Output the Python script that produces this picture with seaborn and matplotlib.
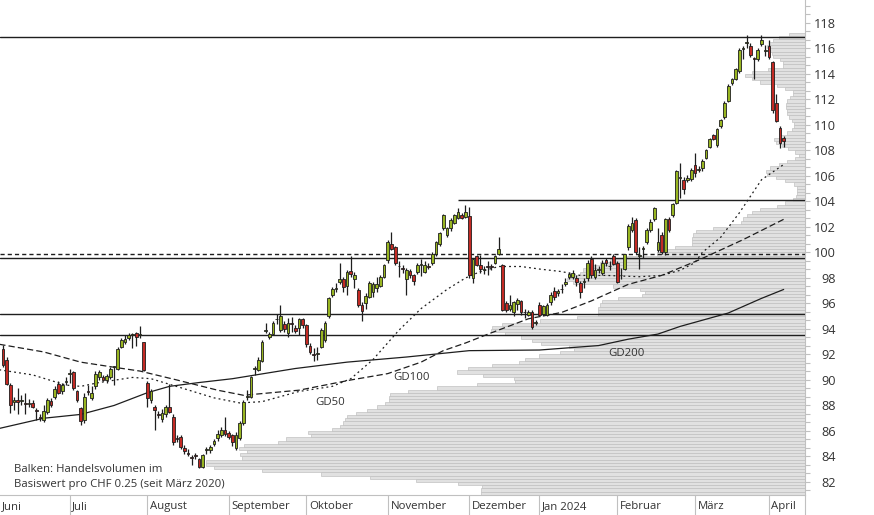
import numpy as np
import pandas as pd
import matplotlib
matplotlib.use("Agg")
import matplotlib.pyplot as plt
import matplotlib.transforms as mtransforms
from matplotlib.ticker import MultipleLocator
import seaborn as sns

# Handelstage SIX, 7. Juni 2023 bis 8. April 2024
feiertage = ["2023-08-01", "2023-12-25", "2023-12-26", "2024-01-01",
             "2024-01-02", "2024-03-29", "2024-04-01"]
tage = pd.bdate_range("2023-06-07", "2024-04-08")
tage = tage[~tage.isin(pd.to_datetime(feiertage))]

# Kerzen
eroeffnung = [
    92.4, 91.6, 89.6, 88.3, 88.4, 88.35, 88.2, 88.15, 88.17, 87.6,
    87.1, 86.9, 87.5, 88.35, 88.7, 89.7, 89.1, 89.85, 90.5, 90.65,
    89.1, 87.8, 86.9, 89.1, 88.6, 89.5, 90.2, 90.25, 90.0, 90.26,
    91.0, 90.9, 92.6, 92.95, 93.3, 93.5, 93.66, 93.5, 92.95, 89.75,
    88.4, 87.9, 87.3, 86.95, 87.3, 87.85, 87.1, 85.45, 85.55, 84.7,
    84.25, 83.95, 84.1, 83.8, 83.2, 84.5, 84.5, 84.95, 85.45, 85.7,
    86.1, 85.85, 85.7, 84.65, 85.45, 86.65, 88.7, 88.7, 90.85, 90.8,
    91.5, 93.85, 93.35, 93.6, 94.75, 93.9, 94.4, 93.7, 94.45, 94.08,
    94.05, 94.8, 94.3, 92.7, 92.0, 92.0, 92.56, 93.1, 95.0, 96.7,
    97.15, 97.7, 97.9, 97.4, 98.55, 97.9, 97.06, 95.9, 96.0, 96.5,
    96.9, 97.2, 97.4, 98.1, 99.4, 100.7, 100.4, 98.95, 98.75, 97.9,
    98.55, 98.2, 98.5, 99.0, 98.5, 98.9, 99.2, 99.86, 100.7, 101.9,
    101.4, 101.9, 102.3, 102.7, 102.94, 102.8, 102.86, 97.97, 99.7, 99.0,
    98.6, 98.9, 98.9, 99.2, 99.9, 99.0, 96.0, 95.6, 95.3, 95.96,
    96.2, 95.3, 95.1, 95.35, 94.5, 95.9, 95.2, 95.1, 96.1, 97.0,
    96.8, 97.1, 97.55, 98.1, 98.1, 97.97, 97.6, 97.7, 97.97, 99.5,
    98.1, 98.6, 98.37, 99.4, 98.9, 99.75, 99.15, 98.2, 98.7, 100.4,
    101.8, 102.55, 99.7, 100.3, 100.85, 101.8, 102.6, 100.2, 101.4, 100.0,
    102.6, 102.9, 103.9, 105.85, 105.7, 105.7, 105.8, 106.86, 106.5, 106.6,
    107.4, 108.3, 109.2, 108.4, 109.9, 110.65, 111.9, 113.32, 113.6, 114.2,
    115.95, 116.4, 116.2, 115.2, 115.15, 116.33, 115.8, 116.2, 114.9, 111.7,
    109.8, 108.95]
hoch = [
    92.75, 91.8, 89.8, 88.7, 89.35, 88.8, 88.95, 88.5, 88.4, 87.8,
    87.3, 88.0, 88.6, 88.6, 89.5, 89.9, 89.8, 90.26, 90.9, 90.7,
    89.2, 87.9, 89.0, 89.6, 89.5, 90.7, 90.8, 90.4, 90.5, 91.0,
    91.1, 92.6, 93.3, 93.5, 93.7, 93.66, 93.8, 94.24, 93.0, 89.9,
    89.3, 88.0, 87.6, 87.7, 88.0, 89.7, 87.3, 85.7, 85.7, 84.9,
    84.6, 84.1, 84.3, 83.9, 84.2, 84.75, 84.9, 85.4, 86.1, 86.3,
    87.1, 86.0, 85.8, 85.9, 86.8, 88.4, 89.2, 90.3, 91.1, 91.8,
    93.1, 94.5, 93.8, 94.6, 95.2, 95.9, 94.6, 94.9, 94.95, 94.3,
    94.85, 94.9, 94.4, 92.9, 92.5, 92.6, 94.1, 94.6, 96.5, 97.3,
    97.6, 99.15, 98.1, 98.6, 99.7, 98.5, 97.2, 96.1, 96.8, 97.8,
    97.7, 98.1, 98.2, 99.1, 101.0, 101.6, 100.5, 99.3, 99.0, 98.8,
    98.7, 98.3, 99.2, 99.5, 99.3, 99.2, 100.0, 100.9, 101.6, 103.0,
    102.0, 102.7, 103.0, 103.5, 103.1, 103.7, 103.6, 99.6, 99.8, 99.8,
    98.9, 99.3, 99.1, 99.8, 101.2, 99.1, 96.2, 96.7, 96.2, 96.4,
    96.3, 95.6, 95.5, 95.5, 94.7, 96.1, 95.9, 96.0, 96.9, 97.3,
    97.1, 97.5, 98.0, 98.5, 98.6, 98.2, 97.8, 98.0, 99.4, 99.7,
    99.1, 98.9, 99.4, 99.6, 99.3, 99.9, 99.3, 98.8, 99.9, 102.2,
    102.8, 102.7, 100.4, 100.5, 101.9, 102.6, 103.6, 101.9, 101.6, 102.7,
    102.8, 103.9, 106.5, 107.05, 105.9, 106.1, 106.6, 107.8, 106.8, 107.3,
    108.1, 109.0, 109.3, 109.8, 110.5, 111.9, 113.2, 113.7, 114.5, 116.0,
    116.2, 117.06, 116.4, 115.3, 116.0, 117.06, 116.3, 116.7, 115.0, 112.4,
    109.9, 109.1]
tief = [
    91.0, 89.6, 87.4, 87.65, 87.3, 88.0, 87.35, 87.9, 87.8, 86.86,
    86.8, 86.7, 87.3, 87.9, 88.5, 88.9, 88.9, 89.6, 89.75, 89.2,
    88.3, 86.5, 86.6, 88.8, 88.4, 89.3, 90.0, 89.9, 89.8, 90.1,
    89.6, 90.8, 92.5, 92.8, 93.1, 92.5, 92.7, 93.3, 90.7, 87.9,
    88.2, 86.1, 87.0, 86.7, 87.1, 87.4, 84.9, 85.1, 84.6, 84.2,
    84.0, 83.35, 83.8, 83.1, 83.1, 84.2, 84.3, 84.8, 85.2, 85.5,
    85.6, 85.4, 84.8, 84.5, 85.3, 86.5, 88.4, 88.6, 90.4, 90.7,
    91.4, 93.66, 93.2, 93.5, 94.4, 93.8, 93.8, 93.35, 93.8, 93.7,
    93.5, 94.1, 92.6, 92.0, 91.5, 91.6, 92.5, 93.0, 94.9, 96.5,
    96.9, 97.5, 96.9, 96.7, 98.1, 97.2, 95.7, 94.6, 95.6, 96.4,
    96.5, 96.9, 97.3, 98.0, 99.2, 100.2, 99.0, 98.1, 98.4, 96.7,
    98.0, 97.45, 98.3, 98.15, 98.4, 98.7, 99.0, 99.7, 100.5, 101.8,
    101.2, 101.7, 102.2, 102.6, 102.6, 102.7, 98.0, 97.6, 98.9, 98.4,
    98.3, 98.2, 98.6, 99.1, 99.8, 95.4, 95.3, 95.4, 95.0, 95.5,
    95.1, 94.85, 95.0, 94.0, 94.3, 95.0, 95.0, 95.0, 95.9, 96.3,
    96.6, 96.8, 97.4, 97.9, 97.9, 97.4, 96.4, 97.2, 97.8, 98.0,
    97.9, 98.4, 98.2, 98.9, 98.6, 99.0, 97.6, 97.9, 98.6, 100.2,
    101.6, 99.9, 98.7, 99.6, 100.7, 101.6, 102.5, 100.0, 99.9, 99.8,
    101.6, 102.8, 103.8, 104.25, 104.6, 105.5, 105.6, 105.95, 106.3, 106.4,
    107.3, 108.2, 108.8, 108.3, 109.8, 110.5, 111.8, 113.1, 113.5, 114.1,
    115.2, 116.0, 115.3, 113.6, 115.0, 116.2, 115.4, 115.2, 110.9, 110.2,
    108.2, 108.3]
schluss = [
    91.2, 89.7, 88.0, 88.4, 88.3, 88.4, 88.15, 88.2, 87.86, 87.55,
    87.05, 87.6, 88.4, 88.0, 89.3, 89.0, 89.6, 89.9, 90.55, 89.35,
    88.45, 86.75, 88.7, 89.05, 89.0, 90.45, 90.6, 90.0, 90.3, 90.85,
    91.05, 92.4, 93.1, 93.2, 93.5, 93.55, 93.35, 93.55, 90.8, 88.55,
    89.15, 87.65, 87.25, 87.4, 87.85, 87.5, 85.1, 85.4, 84.77, 84.4,
    84.2, 83.9, 84.05, 83.2, 84.1, 84.55, 84.75, 85.2, 85.75, 86.1,
    85.75, 85.55, 85.1, 85.7, 86.65, 88.3, 88.75, 90.2, 90.9, 91.6,
    93.0, 93.9, 93.6, 94.5, 94.8, 95.0, 94.0, 94.5, 94.4, 93.84,
    94.8, 94.3, 92.8, 92.2, 91.95, 92.1, 93.9, 94.5, 96.4, 97.1,
    97.2, 97.9, 97.3, 98.45, 98.3, 98.2, 95.9, 95.4, 96.6, 97.6,
    97.5, 97.5, 98.1, 99.0, 100.8, 100.3, 99.2, 98.9, 98.7, 98.6,
    98.2, 97.8, 99.0, 99.05, 99.0, 98.85, 99.86, 100.8, 101.5, 102.9,
    101.9, 102.55, 102.9, 103.2, 102.68, 103.2, 98.24, 99.5, 99.0, 98.7,
    98.65, 98.85, 98.85, 99.75, 100.3, 95.5, 95.5, 95.9, 96.1, 96.3,
    95.3, 95.3, 95.3, 94.13, 94.55, 95.1, 95.8, 95.9, 96.7, 96.5,
    96.95, 97.15, 97.65, 98.3, 98.4, 97.66, 96.9, 97.75, 99.2, 98.2,
    98.6, 98.7, 99.15, 99.2, 98.95, 99.1, 97.7, 98.25, 99.86, 102.08,
    102.3, 100.07, 99.75, 100.35, 101.8, 102.4, 103.5, 100.8, 100.07, 102.6,
    101.8, 103.8, 106.4, 105.9, 104.95, 105.85, 106.5, 106.2, 106.55, 107.2,
    108.0, 108.9, 108.9, 109.7, 110.4, 111.75, 113.06, 113.6, 114.4, 115.88,
    116.0, 116.45, 115.5, 115.15, 115.9, 116.67, 115.85, 115.3, 111.2, 110.3,
    108.6, 108.75]

# Gleitende Durchschnitte (Handelstag-Index, Wert)
gd50_tag = [-1, 8, 17, 21, 26, 35, 40, 48, 57, 64, 70, 80, 89, 94, 100, 107, 113,
            120, 125, 129, 134, 140, 145, 151, 156, 163, 172, 178, 183, 187, 189,
            194, 199, 205, 211]
gd50_wert = [90.8, 90.4, 89.6, 89.5, 89.8, 90.2, 90.1, 89.4, 88.6, 88.2, 88.3, 89.1,
             89.5, 90.1, 91.6, 93.9, 95.6, 97.1, 98.0, 98.5, 98.9, 98.9, 98.7, 98.5,
             98.2, 98.2, 98.1, 98.2, 98.6, 99.2, 100.0, 101.2, 103.1, 105.7, 106.9]
gd100_tag = [-1, 11, 21, 30, 37, 47, 58, 65, 80, 94, 104, 113, 119, 125, 132, 142,
             151, 159, 169, 178, 188, 200, 211]
gd100_wert = [92.8, 92.2, 91.4, 91.0, 90.7, 90.0, 89.2, 88.8, 89.2, 90.0, 90.5,
              91.4, 92.3, 92.9, 93.7, 94.8, 95.3, 96.2, 97.5, 98.2, 99.4, 101.0, 102.6]
gd200_tag = [-1, 11, 21, 30, 39, 45, 53, 62, 79, 93, 109, 126, 145, 161, 169, 177,
             183, 196, 205, 211]
gd200_wert = [86.2, 87.0, 87.3, 88.0, 89.0, 89.5, 89.8, 90.1, 90.9, 91.4, 91.8,
              92.3, 92.35, 92.7, 93.2, 93.6, 94.2, 95.25, 96.4, 97.1]

# Volumenprofil: Klassen zu CHF 0.25 ab 81.00
klassen = np.arange(81.0, 117.25, 0.25)
volumen = [
    324, 324, 323, 347, 389, 435, 484, 543, 591, 599, 599, 563, 565, 558, 566, 561,
    527, 519, 494, 497, 473, 465, 462, 460, 458, 449, 438, 428, 420, 416, 416, 415,
    397, 368, 328, 290, 291, 322, 348, 337, 313, 286, 280, 266, 245, 231, 236, 264,
    273, 284, 300, 314, 313, 303, 265, 228, 207, 207, 207, 205, 203, 187, 163, 160,
    165, 192, 232, 238, 235, 225, 222, 215, 205, 195, 178, 148, 140, 130, 113, 113,
    113, 112, 109, 92, 75, 64, 62, 58, 53, 45, 28, 20, 12, 9, 8, 8,
    8, 11, 20, 29, 38, 39, 35, 26, 18, 10, 6, 10, 17, 23, 29, 31,
    25, 18, 13, 11, 11, 13, 16, 18, 18, 19, 19, 18, 15, 12, 12, 20,
    28, 45, 53, 60, 53, 37, 22, 22, 25, 32, 33, 37, 38, 36, 32, 26, 16]

# Widerstands-/Unterstuetzungslinien
linien_voll = [116.9, 99.55, 95.15, 93.5]
linie_gestrichelt = 99.86
linie_kurz = 104.1
linie_kurz_ab = 123

monate = ["Juni", "Juli", "August", "September", "Oktober", "November",
          "Dezember", "Jan 2024", "Februar", "März", "April"]

sns.set_theme(style="white")
plt.rcParams["font.family"] = ["Open Sans", "DejaVu Sans"]

GRUEN = "#98b521"
ROT = "#c32a24"
DUNKEL = "#1e1e1e"
TXT = "#333333"
GRAU = "#c0c0c0"

fig = plt.figure(figsize=(8.74, 5.15), dpi=100)
ax_vol = fig.add_axes([0, 20 / 515, 805 / 874, 495 / 515])

# Volumenprofil von rechts
ax_vol.barh(klassen, volumen, height=0.25, align="edge", left=0,
            color="#e1e1e1", edgecolor="#bdbdbd", linewidth=0.45)
ax_vol.set_xlim(805, 0)
ax_vol.set_ylim(80.98, 119.8)
ax_vol.set_xticks([])
ax_vol.yaxis.tick_right()
ax_vol.set_yticks(range(82, 119, 2))
ax_vol.yaxis.set_minor_locator(MultipleLocator(2 / 3))
ax_vol.tick_params(axis="y", which="both", direction="out", length=3.6, width=0.8,
                   color=GRAU, labelsize=9.2, labelcolor=TXT, pad=18.7)
for lbl in ax_vol.get_yticklabels():
    lbl.set_ha("right")
for s in ["top", "left"]:
    ax_vol.spines[s].set_visible(False)
ax_vol.spines["right"].set_color(GRAU)
ax_vol.spines["bottom"].set_color(GRAU)
ax_vol.spines["right"].set_linewidth(0.8)
ax_vol.spines["bottom"].set_linewidth(0.8)

# Kursachse ueber dem Profil
ax = ax_vol.twiny()
for s in ax.spines.values():
    s.set_visible(False)

x = np.arange(len(tage))
o = np.array(eroeffnung)
h = np.array(hoch)
l = np.array(tief)
c = np.array(schluss)
farben = np.where(c >= o, GRUEN, ROT)

for y in linien_voll:
    ax.axhline(y, color=DUNKEL, lw=1.0, zorder=2)
ax.axhline(linie_gestrichelt, color=DUNKEL, lw=1.0, linestyle=(0, (3, 2.2)), zorder=2)
ax.hlines(linie_kurz, linie_kurz_ab, 220, color=DUNKEL, lw=1.0, zorder=2)

sns.lineplot(x=gd200_tag, y=gd200_wert, ax=ax, color=DUNKEL, lw=0.9, zorder=3)
sns.lineplot(x=gd100_tag, y=gd100_wert, ax=ax, color=DUNKEL, lw=0.9,
             linestyle=(0, (5, 2.5)), zorder=3)
sns.lineplot(x=gd50_tag, y=gd50_wert, ax=ax, color=DUNKEL, lw=0.9,
             linestyle=(0, (1.5, 2.5)), zorder=3)

ax.vlines(x, l, h, color=DUNKEL, lw=0.9, zorder=4)
ax.bar(x, np.maximum(np.abs(c - o), 0.07), bottom=np.minimum(o, c), width=0.75,
       color=farben, edgecolor=DUNKEL, linewidth=0.6, zorder=5)

ax.text(88.4, 88.2, "GD50", ha="center", va="center", fontsize=8.2, color=TXT, zorder=6)
ax.text(110.5, 90.16, "GD100", ha="center", va="center", fontsize=8.2, color=TXT, zorder=6)
ax.text(168.4, 92.04, "GD200", ha="center", va="center", fontsize=8.2, color=TXT, zorder=6)

ax.set_xlim(-0.81, 216.76)
ax.set_ylim(80.98, 119.8)
ax.set_xticks([])
ax.set_xlabel("")
ax.set_ylabel("")

# Monatsleiste unten
trans = mtransforms.blended_transform_factory(ax.transData, ax.transAxes)
for i, name in enumerate(monate):
    jahr = 2023 if i < 7 else 2024
    monat = (6 + i - 1) % 12 + 1
    start = np.where((tage.year == jahr) & (tage.month == monat))[0][0]
    if i == 0:
        ax.text(0.003, -0.0242, name, transform=ax.transAxes, ha="left", va="center",
                fontsize=8.2, color=TXT, clip_on=False)
        continue
    ax.plot([start, start], [0, -0.0404], transform=trans, color=GRAU, lw=0.8,
            clip_on=False)
    ax.text(start + 0.7, -0.0242, name, transform=trans, ha="left", va="center",
            fontsize=8.2, color=TXT, clip_on=False)
ax.plot([1, 1], [0, -0.0404], transform=ax.transAxes, color=GRAU, lw=0.8, clip_on=False)

fig.text(14 / 874, 1 - 470 / 515, "Balken: Handelsvolumen im", ha="left", va="center",
         fontsize=8.2, color=TXT)
fig.text(14 / 874, 1 - 485 / 515, "Basiswert pro CHF 0.25 (seit März 2020)", ha="left",
         va="center", fontsize=8.2, color=TXT)

fig.savefig("out.png", dpi=100)
